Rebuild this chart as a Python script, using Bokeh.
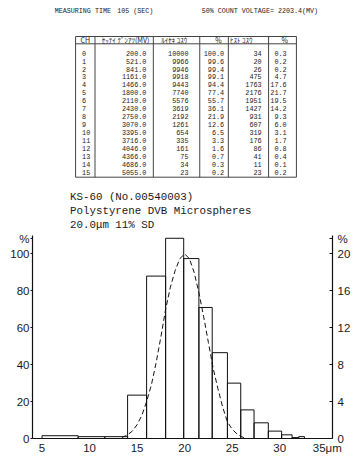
from bokeh.plotting import figure
from bokeh.models import Range1d, LinearAxis, FixedTicker, ColumnDataSource
from bokeh.layouts import column
from bokeh.embed import file_html
from bokeh.resources import INLINE
from bokeh.core.properties import value

# ---------------- data ----------------
header_left = "MEASURING TIME"
header_time = "105 (SEC)"
header_right = "50% COUNT VOLTAGE= 2203.4(MV)"

col_headers = ["CH", "ｾｯﾃｲ ﾃﾞﾝｱﾂ(MV)", "ﾙｲｾｷ ｺｽｳ", "%", "ﾋｽﾄ ｺｽｳ", "%"]
channels = ["0", "1", "2", "3", "4", "5", "6", "7", "8", "9", "10", "11", "12", "13", "14", "15"]
voltages = ["200.0", "521.0", "841.0", "1161.0", "1466.0", "1800.0", "2110.0", "2430.0",
            "2750.0", "3070.0", "3395.0", "3716.0", "4046.0", "4366.0", "4686.0", "5055.0"]
cum_counts = ["10000", "9966", "9946", "9918", "9443", "7740", "5576", "3619",
              "2192", "1261", "654", "335", "161", "75", "34", "23"]
cum_pct = ["100.0", "99.6", "99.4", "99.1", "94.4", "77.4", "55.7", "36.1",
           "21.9", "12.6", "6.5", "3.3", "1.6", "0.7", "0.3", "0.2"]
hist_counts = ["34", "20", "26", "475", "1763", "2176", "1951", "1427",
               "931", "607", "319", "176", "86", "41", "11", "23"]
hist_pct_txt = ["0.3", "0.2", "0.2", "4.7", "17.6", "21.7", "19.5", "14.2",
                "9.3", "6.0", "3.1", "1.7", "0.8", "0.4", "0.1", "0.2"]

title_lines = ["KS-60 (No.00540003)", "Polystyrene DVB Microspheres", "20.0\u03bcm 11% SD"]

# histogram (size in um, differential %)
bin_edges = [5.0, 8.8, 11.6, 14.0, 16.0, 18.0, 19.9, 21.5, 22.9, 24.5, 25.9,
             27.3, 28.8, 30.2, 31.3, 32.0, 32.6]
hist_pct = [0.3, 0.2, 0.2, 4.7, 17.6, 21.7, 19.5, 14.2, 9.3, 6.0, 3.1, 1.7, 0.8, 0.4, 0.1, 0.2]

# dashed fitted curve (left % scale)
curve_x = [13.4, 14.0, 14.5, 15.0, 15.5, 16.0, 16.5, 17.0, 17.5, 18.0, 18.5, 19.0, 19.5,
           20.0, 20.5, 21.0, 21.5, 22.0, 22.5, 23.0, 23.5, 24.0, 24.5, 25.0, 25.5, 26.0, 26.3]
curve_y = [0.5, 2.0, 4.0, 7.5, 12.5, 20.0, 29.0, 41.0, 55.0, 70.0, 82.0, 91.0, 97.5,
           100.0, 97.5, 90.0, 79.0, 66.0, 52.0, 38.0, 27.0, 17.0, 9.0, 5.0, 2.5, 1.0, 0.3]

left_ticks = [0, 20, 40, 60, 80, 100]
right_ticks = [0, 4, 8, 12, 16, 20]
x_ticks = [5, 10, 15, 20, 25, 30, 35]

# ---------------- top: header + table + titles ----------------
W = 360
H1 = 231
H2 = 230
INK = "#1a1a1a"

top = figure(width=W, height=H1, x_range=Range1d(0, W), y_range=Range1d(H1, 0),
             x_axis_type=None, y_axis_type=None, output_backend="svg",
             toolbar_location=None, min_border=0)
top.grid.visible = False
top.outline_line_color = None

mono = value("Liberation Mono")
for hx, ht in [(26.7, header_left), (101.7, header_time), (203, header_right)]:
    top.text(x=[hx], y=[10.5], text=[ht], text_font=mono, text_font_size="6.7px",
             text_baseline="middle", text_color=INK)

# table grid
t_top, t_head, t_bot = 36, 43.3, 176.7
vlines = [51.7, 75, 145, 200.7, 235, 283.3, 316.7]
top.segment(x0=[vlines[0]] * 3, x1=[vlines[-1]] * 3, y0=[t_top, t_head, t_bot],
            y1=[t_top, t_head, t_bot], line_color="#444", line_width=1)
top.segment(x0=vlines, x1=vlines, y0=[t_top] * len(vlines), y1=[t_bot] * len(vlines),
            line_color="#444", line_width=1)

head_x = [63.3, 111.7, 170, 223.3, 250.5, 302.7]
top.text(x=head_x, y=[39.6] * 6, text=col_headers, text_font=value("Noto Sans CJK JP"),
         text_font_size="7px", text_align="center", text_baseline="middle", text_color=INK)

row_y = [52.7 + i * 7.93 for i in range(len(channels))]
cols = [(59.5, "left", channels), (136.7, "right", voltages), (187.2, "right", cum_counts),
        (230, "right", cum_pct), (275, "right", hist_counts), (305, "right", hist_pct_txt)]
for cx, align, vals in cols:
    src = ColumnDataSource(dict(x=[cx] * len(vals), y=row_y, t=vals))
    top.text(x="x", y="y", text="t", source=src, text_font=mono, text_font_size="6.8px",
             text_align=align, text_baseline="middle", text_color=INK)

top.text(x=[45] * 3, y=[196.7, 210.2, 224.3], text=title_lines, text_font=mono,
         text_font_size="10.8px", text_baseline="middle", text_color=INK)

# ---------------- bottom: histogram ----------------
p = figure(width=W, height=H2, x_range=Range1d(4.0, 35.55), y_range=Range1d(0, 110),
           output_backend="svg", toolbar_location=None,
           min_border_left=32, min_border_right=28, min_border_top=4, min_border_bottom=23)
p.grid.visible = False
p.outline_line_color = None
p.extra_y_ranges = {"right": Range1d(0, 22)}

p.quad(left=bin_edges[:-1], right=bin_edges[1:], bottom=0, top=hist_pct, y_range_name="right",
       fill_alpha=0, line_color="#111", line_width=1)
p.line(curve_x, curve_y, line_color="#111", line_width=1, line_dash="5 3")

font = "Liberation Sans"
PCT_LEFT = 108.2     # position of the "%" unit marker on each axis
PCT_RIGHT = 21.64

xa = p.xaxis[0]
xa.ticker = FixedTicker(ticks=x_ticks)
xa.major_label_overrides = {35: "35\u03bcm"}
xa.major_tick_out = 0
xa.major_tick_in = 0
xa.major_label_standoff = 3

ya = p.yaxis[0]
ya.ticker = FixedTicker(ticks=left_ticks + [PCT_LEFT])
ya.major_label_overrides = {PCT_LEFT: "%"}
ya.major_tick_out = 2
ya.major_tick_in = 0
ya.major_label_standoff = 1

ra = LinearAxis(y_range_name="right", ticker=FixedTicker(ticks=right_ticks + [PCT_RIGHT]))
ra.major_label_overrides = {PCT_RIGHT: "%"}
ra.major_tick_out = 0
ra.major_tick_in = 3
ra.major_label_standoff = 5
p.add_layout(ra, "right")

for ax in [xa, ya, ra]:
    ax.minor_tick_out = 0
    ax.minor_tick_in = 0
    ax.axis_line_color = "#111"
    ax.axis_line_width = 1.2
    ax.major_tick_line_color = "#111"
    ax.major_label_text_font = font
    ax.major_label_text_font_size = "11.5px"
    ax.major_label_text_color = INK

layout = column(top, p, spacing=0)
open("out.html", "w").write(file_html(layout, INLINE))
